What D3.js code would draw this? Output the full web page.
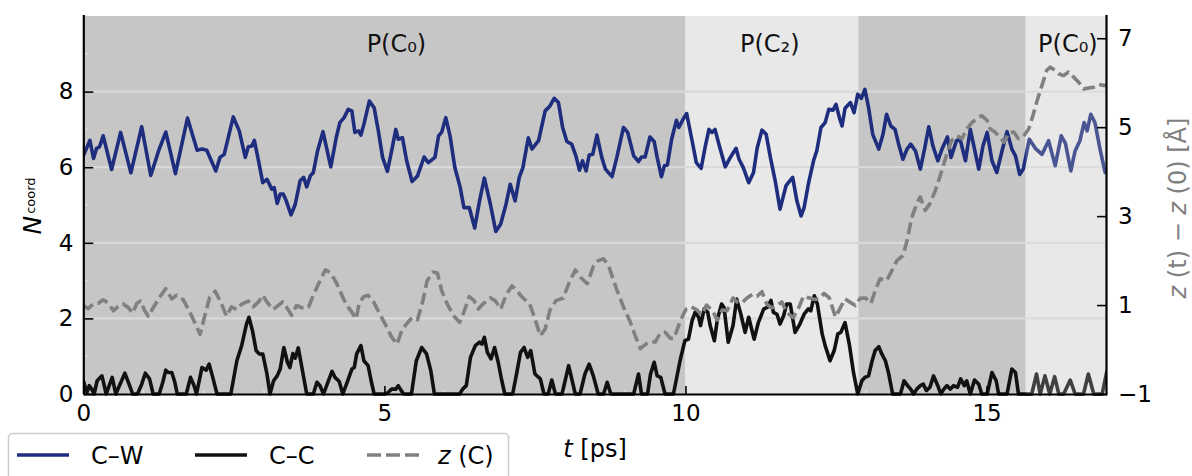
<!DOCTYPE html>
<html>
<head>
<meta charset="utf-8">
<script src="https://cdn.jsdelivr.net/npm/d3@7/dist/d3.min.js"></script>
<style>
  html, body { margin: 0; padding: 0; background: #fff; }
  svg { display: block; font-family: "DejaVu Sans", sans-serif; }
</style>
</head>
<body>
<svg id="chart" width="1192" height="476"></svg>
<script>
// Coordination numbers of the carbon atom and its height z(t) - z(0) along the trajectory.

// C–W coordination number
const cwT = [0.00,0.11,0.17,0.22,0.27,0.33,0.47,0.62,0.79,0.97,1.12,1.25,1.37,1.53,1.73,1.89,1.97,2.05,2.20,2.27,2.34,2.49,2.59,2.69,2.74,2.80,2.84,2.91,2.98,3.05,3.13,3.17,3.22,3.27,3.32,3.37,3.45,3.52,3.60,3.66,3.71,3.77,3.82,3.89,3.98,4.11,4.20,4.26,4.33,4.40,4.46,4.51,4.57,4.61,4.66,4.75,4.83,4.90,4.97,5.05,5.12,5.19,5.23,5.30,5.37,5.46,5.55,5.66,5.73,5.84,5.90,5.95,6.02,6.09,6.17,6.26,6.32,6.41,6.50,6.58,6.66,6.76,6.85,6.93,7.02,7.09,7.17,7.24,7.30,7.39,7.45,7.56,7.67,7.75,7.82,7.89,7.96,8.03,8.11,8.18,8.24,8.29,8.35,8.40,8.46,8.53,8.61,8.67,8.78,8.86,8.97,9.04,9.14,9.22,9.27,9.33,9.41,9.48,9.53,9.60,9.65,9.70,9.77,9.85,9.89,9.96,10.02,10.11,10.18,10.26,10.33,10.39,10.44,10.49,10.57,10.66,10.75,10.84,10.89,10.96,11.05,11.13,11.19,11.27,11.34,11.41,11.49,11.57,11.67,11.78,11.85,11.92,11.97,12.04,12.13,12.18,12.25,12.32,12.38,12.45,12.50,12.56,12.60,12.65,12.74,12.80,12.86,12.92,12.98,13.04,13.11,13.21,13.28,13.34,13.41,13.48,13.54,13.61,13.68,13.74,13.82,13.90,13.97,14.04,14.11,14.19,14.26,14.35,14.41,14.50,14.56,14.65,14.73,14.80,14.87,14.94,15.01,15.09,15.17,15.25,15.34,15.42,15.48,15.55,15.61,15.71,15.81,15.92,16.03,16.14,16.24,16.31,16.40,16.47,16.55,16.62,16.67,16.73,16.80,16.89,16.97,17.00];
const cwN = [6.30,6.71,6.23,6.50,6.54,6.83,5.94,6.92,5.85,7.07,5.78,6.43,6.93,5.83,7.30,6.45,6.48,6.45,5.90,6.26,6.34,7.33,6.96,6.26,6.54,6.56,6.71,6.17,5.59,5.68,5.42,5.46,5.04,5.29,5.29,5.11,4.74,5.02,5.64,5.73,5.48,5.77,5.86,6.43,6.94,6.01,6.78,7.18,7.31,7.53,7.49,6.92,6.96,6.85,7.14,7.75,7.57,6.96,6.26,5.89,6.43,7.00,6.74,6.78,6.17,5.62,5.77,6.27,6.12,6.26,6.83,6.92,7.31,6.83,5.99,5.46,4.93,4.93,4.39,5.11,5.71,5.02,4.30,4.49,5.02,5.55,5.11,5.73,5.99,6.78,6.48,6.70,7.49,7.62,7.82,7.71,7.05,6.68,6.61,6.30,5.92,6.17,5.90,6.32,6.34,6.85,6.26,5.95,5.75,6.26,7.05,6.92,6.30,6.15,6.27,6.27,6.80,6.68,6.26,5.75,6.04,6.06,6.74,7.24,7.05,7.27,7.42,6.70,6.12,5.97,6.56,7.00,6.92,7.00,6.52,6.01,6.27,6.50,6.21,5.99,5.59,5.86,6.50,6.98,6.87,6.26,5.64,4.89,5.51,5.73,5.11,4.71,4.93,5.55,6.19,6.43,7.05,7.18,7.53,7.51,7.66,7.29,7.09,7.56,7.71,7.44,7.93,7.82,8.06,7.58,6.87,6.48,6.87,7.40,7.09,7.00,6.61,6.21,6.48,6.61,6.43,5.95,6.48,7.07,6.56,6.17,6.48,6.80,6.26,6.70,6.74,6.17,7.00,6.48,5.95,6.56,6.92,6.17,5.86,6.39,6.94,6.48,6.30,5.81,5.95,6.74,6.50,6.34,6.70,6.04,6.83,6.63,5.90,6.43,6.70,7.18,6.96,7.40,7.18,6.43,5.86,5.85];

// C–C coordination number
const ccT = [0.00,0.06,0.10,0.14,0.18,0.23,0.31,0.38,0.43,0.48,0.54,0.61,0.69,0.76,0.82,0.90,0.97,1.03,1.10,1.16,1.26,1.32,1.37,1.41,1.47,1.52,1.56,1.71,1.78,1.84,1.88,1.97,2.04,2.09,2.15,2.22,2.45,2.55,2.63,2.71,2.75,2.81,2.87,2.92,2.98,3.05,3.10,3.16,3.22,3.27,3.33,3.39,3.43,3.48,3.52,3.57,3.63,3.71,3.82,3.88,3.93,3.99,4.07,4.13,4.18,4.25,4.31,4.39,4.46,4.50,4.54,4.61,4.66,4.73,4.78,4.83,5.01,5.06,5.12,5.19,5.23,5.28,5.32,5.45,5.53,5.62,5.70,5.77,5.83,6.25,6.30,6.36,6.43,6.51,6.58,6.62,6.66,6.71,6.77,6.83,6.89,6.95,7.00,7.13,7.20,7.26,7.32,7.38,7.43,7.50,7.59,7.65,7.72,7.78,7.84,7.95,8.06,8.17,8.25,8.33,8.40,8.47,8.55,8.64,8.70,8.76,9.14,9.22,9.27,9.37,9.42,9.48,9.53,9.59,9.66,9.80,9.91,9.99,10.05,10.11,10.16,10.22,10.25,10.31,10.37,10.41,10.48,10.53,10.60,10.64,10.71,10.79,10.85,10.92,10.99,11.05,11.14,11.21,11.30,11.36,11.42,11.46,11.52,11.57,11.63,11.68,11.74,11.82,11.90,11.97,12.04,12.08,12.14,12.19,12.27,12.32,12.40,12.47,12.53,12.58,12.65,12.72,12.79,12.86,12.93,12.98,13.04,13.10,13.15,13.21,13.26,13.32,13.37,13.44,13.57,13.63,13.69,13.74,13.79,13.84,13.90,13.95,14.00,14.06,14.12,14.19,14.24,14.29,14.34,14.40,14.45,14.52,14.57,14.63,14.67,14.73,14.80,14.87,14.92,15.01,15.09,15.16,15.20,15.34,15.42,15.48,15.53,15.75,15.83,15.89,15.97,16.05,16.13,16.20,16.28,16.39,16.47,16.61,16.69,16.78,16.92,17.00];
const ccN = [0.35,0.04,0.22,0.13,0.00,0.35,0.48,0.00,0.22,0.44,0.00,0.26,0.55,0.26,0.00,0.00,0.26,0.55,0.40,0.00,0.00,0.31,0.63,0.57,0.57,0.31,0.00,0.00,0.44,0.22,0.00,0.70,0.63,0.79,0.44,0.00,0.00,0.88,1.28,1.85,2.03,1.67,1.15,1.06,1.06,0.53,0.00,0.35,0.48,0.66,1.23,0.84,0.70,1.07,0.95,1.22,0.70,0.00,0.00,0.31,0.22,0.00,0.35,0.60,0.44,0.33,0.00,0.35,0.66,0.70,1.06,1.28,0.88,0.75,0.35,0.00,0.00,0.04,0.13,0.13,0.22,0.09,0.00,0.00,0.88,1.23,1.06,0.62,0.00,0.00,0.13,0.22,0.97,1.28,1.37,1.32,1.50,1.10,0.93,1.23,0.84,0.35,0.00,0.00,0.57,1.10,1.23,0.97,1.15,0.53,0.40,0.00,0.00,0.37,0.00,0.00,0.75,0.00,0.00,0.53,0.79,0.48,0.00,0.00,0.31,0.00,0.00,0.53,0.00,0.00,0.53,0.84,0.48,0.44,0.00,0.00,0.88,1.41,1.45,1.94,2.16,2.03,1.81,2.25,2.16,1.81,1.41,1.98,2.38,2.29,1.37,1.81,2.51,2.11,1.63,2.03,1.45,1.89,2.25,2.29,2.48,2.16,2.11,1.85,2.07,2.38,2.38,1.63,1.85,2.11,2.25,2.20,2.60,2.38,1.59,1.28,0.88,1.15,1.59,1.63,1.89,1.32,0.57,0.00,0.35,0.44,0.48,0.88,1.15,1.25,1.06,0.88,0.57,0.00,0.00,0.35,0.22,0.13,0.00,0.13,0.22,0.26,0.09,0.18,0.48,0.22,0.00,0.13,0.22,0.13,0.22,0.18,0.40,0.22,0.35,0.00,0.37,0.26,0.00,0.00,0.57,0.35,0.00,0.00,0.66,0.57,0.00,0.00,0.53,0.00,0.48,0.00,0.46,0.00,0.00,0.37,0.00,0.00,0.53,0.00,0.00,0.62];

// z(t) - z(0) of the carbon atom, in Å (right axis)
const zT = [0.00,0.08,0.17,0.25,0.33,0.42,0.50,0.58,0.66,0.75,0.82,0.89,0.95,1.02,1.08,1.16,1.27,1.37,1.47,1.55,1.66,1.77,1.86,1.94,2.02,2.10,2.19,2.27,2.38,2.46,2.55,2.63,2.74,2.82,2.91,2.98,3.05,3.15,3.22,3.31,3.38,3.46,3.54,3.63,3.74,3.82,3.93,4.02,4.11,4.21,4.32,4.40,4.46,4.53,4.58,4.65,4.73,4.82,4.92,5.01,5.12,5.21,5.29,5.37,5.46,5.55,5.64,5.71,5.81,5.88,5.95,6.04,6.15,6.25,6.32,6.41,6.49,6.56,6.64,6.76,6.84,6.93,7.03,7.12,7.20,7.30,7.41,7.50,7.59,7.67,7.75,7.85,7.97,8.07,8.17,8.26,8.37,8.47,8.55,8.64,8.72,8.86,8.97,9.08,9.16,9.25,9.33,9.41,9.50,9.58,9.66,9.75,9.81,9.91,10.01,10.09,10.19,10.27,10.35,10.45,10.53,10.61,10.69,10.79,10.86,10.94,11.02,11.11,11.19,11.27,11.35,11.43,11.51,11.60,11.68,11.79,11.88,11.96,12.03,12.13,12.21,12.30,12.39,12.49,12.58,12.65,12.74,12.82,12.90,12.99,13.08,13.15,13.23,13.34,13.43,13.51,13.61,13.68,13.76,13.85,13.90,13.98,14.06,14.15,14.24,14.34,14.42,14.51,14.59,14.67,14.76,14.84,14.92,15.01,15.06,15.14,15.23,15.29,15.37,15.45,15.53,15.61,15.70,15.77,15.84,15.92,16.00,16.06,16.12,16.20,16.28,16.36,16.45,16.53,16.61,16.69,16.78,16.86,16.94,17.00];
const zV = [0.99,0.92,1.03,1.04,1.12,1.04,0.87,0.97,1.03,0.94,0.82,1.04,1.09,0.87,0.75,0.94,1.18,1.37,1.14,1.22,1.12,0.84,0.58,0.34,0.77,1.18,1.31,1.10,0.75,0.96,0.90,1.02,1.09,0.96,1.07,1.22,1.07,0.90,0.97,1.07,0.94,0.77,0.99,0.94,0.95,1.22,1.55,1.79,1.72,1.48,1.14,0.95,0.84,0.69,1.03,1.18,1.22,1.07,0.81,0.58,0.28,0.12,0.43,0.58,0.72,0.67,1.10,1.55,1.74,1.72,1.33,1.03,0.76,0.61,0.84,1.19,1.10,0.91,1.03,1.16,1.10,0.91,1.25,1.43,1.32,1.16,1.03,0.69,0.31,0.46,0.89,1.10,1.16,1.51,1.79,1.62,1.48,1.87,2.00,2.04,1.90,1.34,0.96,0.63,0.33,0.02,0.11,0.18,0.17,0.37,0.39,0.25,0.25,0.63,0.91,0.96,0.89,0.78,1.00,0.87,0.66,0.89,0.87,1.16,1.07,1.05,1.16,1.24,1.20,1.30,1.02,0.94,0.98,1.07,0.83,0.72,0.94,1.20,1.17,1.13,1.13,1.26,1.16,0.73,0.96,1.14,1.06,0.99,1.15,1.16,1.04,1.32,1.59,1.55,1.78,2.00,2.11,2.45,2.98,3.31,3.43,3.13,3.28,3.58,3.95,4.40,4.70,4.81,4.74,4.96,5.11,5.19,5.26,5.15,4.96,4.89,4.76,4.66,4.87,4.89,4.74,4.79,4.96,5.26,5.60,5.94,6.28,6.35,6.29,6.20,6.16,6.24,6.12,6.01,5.86,5.88,5.90,5.96,5.94,5.94];

// Time windows of the assigned states, and their labels
const spanStart = [0, 10, 12.87, 15.65];
const spanEnd   = [10, 12.87, 15.65, 17];
const stateLabels = ["P(C\u2080)", "P(C\u2082)", "P(C\u2080)"];
const stateLabelT = [5.2, 11.4, 16.35];

const xTicks = [0, 5, 10, 15];
const nTicks = [0, 2, 4, 6, 8];
const nMinor = [1, 3, 5, 7, 9];
const zTicks = [-1, 1, 3, 5, 7];
const seriesNames = ["C\u2013W", "C\u2013C", "z (C)"];

[[cwT, cwN, "C-W"], [ccT, ccN, "C-C"], [zT, zV, "z"]].forEach(([a, b, n]) => {
  if (a.length !== b.length) throw new Error(n + " length mismatch " + a.length + " vs " + b.length);
});

// ---- layout ----
const svg = d3.select("#chart");
const plotL = 83.3, plotR = 1107, plotT = 16, plotB = 394;

const x = d3.scaleLinear().domain([0, 17]).range([plotL, plotR]);
const yN = d3.scaleLinear().domain([0, 10]).range([plotB, plotT]);
const yZ = d3.scaleLinear().domain([-1, 7.5]).range([plotB, plotT]);

const dark = "#c6c6c6", light = "#e8e8e8";
const blue = "#1e2d7d", black = "#111111", grey = "#808080";
const lw = 3.6, dash = "12,5";

// shaded state windows
svg.append("g").selectAll("rect")
  .data(spanStart.map((s, i) => ({ s, e: spanEnd[i], i })))
  .join("rect")
  .attr("x", d => x(d.s))
  .attr("width", d => x(d.e) - x(d.s))
  .attr("y", plotT)
  .attr("height", plotB - plotT)
  .attr("fill", d => d.i % 2 === 0 ? dark : light);

// horizontal grid
svg.append("g").selectAll("line")
  .data(nTicks.filter(v => v > 0))
  .join("line")
  .attr("x1", plotL).attr("x2", plotR)
  .attr("y1", d => yN(d)).attr("y2", d => yN(d))
  .attr("stroke", "#d9d9d9").attr("stroke-width", 2.2);

// minor ticks
svg.append("g").selectAll("line")
  .data(d3.range(1, 17))
  .join("line")
  .attr("x1", d => x(d)).attr("x2", d => x(d))
  .attr("y1", plotB).attr("y2", plotB - 4)
  .attr("stroke", "#dedede").attr("stroke-width", 1.5);
svg.append("g").selectAll("line")
  .data(nMinor)
  .join("line")
  .attr("x1", plotL).attr("x2", plotL + 4)
  .attr("y1", d => yN(d)).attr("y2", d => yN(d))
  .attr("stroke", "#dedede").attr("stroke-width", 1.5);

svg.append("clipPath").attr("id", "plotclip")
  .append("rect").attr("x", plotL).attr("y", plotT)
  .attr("width", plotR - plotL).attr("height", plotB - plotT + 2);

const lineN = d3.line().x(d => x(d[0])).y(d => yN(d[1]));
const lineZ = d3.line().x(d => x(d[0])).y(d => yZ(d[1]));

const plot = svg.append("g").attr("clip-path", "url(#plotclip)");

plot.append("path")
  .datum(cwT.map((t, i) => [t, cwN[i]]))
  .attr("d", lineN)
  .attr("fill", "none").attr("stroke", blue)
  .attr("stroke-width", lw).attr("stroke-linejoin", "round");

plot.append("path")
  .datum(ccT.map((t, i) => [t, ccN[i]]))
  .attr("d", lineN)
  .attr("fill", "none").attr("stroke", black)
  .attr("stroke-width", lw).attr("stroke-linejoin", "round");

// the last window is drawn with a translucent veil over the coordination curves
plot.append("rect")
  .attr("x", x(spanStart[3])).attr("width", x(spanEnd[3]) - x(spanStart[3]))
  .attr("y", plotT).attr("height", plotB - plotT)
  .attr("fill", light).attr("fill-opacity", 0.22);

// z(C) on the twin axis, drawn on top
plot.append("path")
  .datum(zT.map((t, i) => [t, zV[i]]))
  .attr("d", lineZ)
  .attr("fill", "none").attr("stroke", grey)
  .attr("stroke-width", lw).attr("stroke-dasharray", dash)
  .attr("stroke-linejoin", "round");

// state labels
svg.append("g").selectAll("text")
  .data(stateLabels)
  .join("text")
  .attr("x", (d, i) => x(stateLabelT[i]))
  .attr("y", 52)
  .attr("text-anchor", "middle")
  .attr("font-size", 24)
  .attr("fill", "#111")
  .text(d => d);

// ---- axes ----
const tickFont = 23;
const gx = svg.append("g").attr("transform", `translate(0,${plotB})`)
  .call(d3.axisBottom(x).tickValues(xTicks).tickFormat(d3.format("d"))
    .tickSize(-8).tickSizeOuter(0).tickPadding(11));
const gl = svg.append("g").attr("transform", `translate(${plotL},0)`)
  .call(d3.axisLeft(yN).tickValues(nTicks).tickFormat(d3.format("d"))
    .tickSize(-10).tickSizeOuter(0).tickPadding(10));
const gr = svg.append("g").attr("transform", `translate(${plotR},0)`)
  .call(d3.axisRight(yZ).tickValues(zTicks).tickFormat(d => d < 0 ? "\u2212" + Math.abs(d) : d)
    .tickSize(-10).tickSizeOuter(0).tickPadding(11));

[gx, gl, gr].forEach(g => {
  g.selectAll("text").attr("font-size", tickFont).attr("fill", "#000")
    .attr("font-family", "DejaVu Sans");
  g.selectAll(".tick line").attr("stroke", "#000").attr("stroke-width", 1.6);
  g.select(".domain").attr("stroke", "#000").attr("stroke-width", 2.2);
});
gl.select(".domain").attr("d", `M0.5,${plotB}V${plotT - 1}`);
gr.select(".domain").attr("d", `M-0.5,${plotB}V${plotT - 1}`);

// axis titles
const xl = svg.append("text").attr("x", 595).attr("y", 457)
  .attr("text-anchor", "middle").attr("font-size", 24).attr("fill", "#000");
xl.append("tspan").attr("font-style", "italic").text("t");
xl.append("tspan").text(" [ps]");

const yl = svg.append("text")
  .attr("transform", "translate(41,206) rotate(-90)")
  .attr("text-anchor", "middle").attr("font-size", 25).attr("fill", "#000");
yl.append("tspan").attr("font-style", "italic").text("N");
yl.append("tspan").attr("font-size", 13).attr("dx", 2).attr("dy", -6).text("coord");

const zl = svg.append("text")
  .attr("transform", "translate(1186,208) rotate(-90)")
  .attr("text-anchor", "middle").attr("font-size", 24).attr("fill", grey);
zl.append("tspan").attr("font-style", "italic").text("z");
zl.append("tspan").text(" (t) \u2212 ");
zl.append("tspan").attr("font-style", "italic").text("z");
zl.append("tspan").text(" (0) [\u00C5]");

// ---- legend ----
const lg = svg.append("g");
lg.append("rect")
  .attr("x", 8.5).attr("y", 433.5).attr("width", 500).attr("height", 60)
  .attr("rx", 4).attr("fill", "#fff").attr("stroke", "#cccccc").attr("stroke-width", 1.5);
const legLineX = [17, 195, 367];
const legTextX = [91, 269, 438];
const legStroke = [blue, black, grey];
const legDash = [null, null, "14,5"];
seriesNames.forEach((name, i) => {
  lg.append("line")
    .attr("x1", legLineX[i]).attr("x2", legLineX[i] + 52)
    .attr("y1", 455).attr("y2", 455)
    .attr("stroke", legStroke[i]).attr("stroke-width", lw)
    .attr("stroke-dasharray", legDash[i]);
  const t = lg.append("text").attr("x", legTextX[i]).attr("y", 464)
    .attr("font-size", 24).attr("fill", "#000");
  if (name.startsWith("z")) {
    t.append("tspan").attr("font-style", "italic").text("z");
    t.append("tspan").text(name.slice(1));
  } else {
    t.text(name);
  }
});
</script>
</body>
</html>
